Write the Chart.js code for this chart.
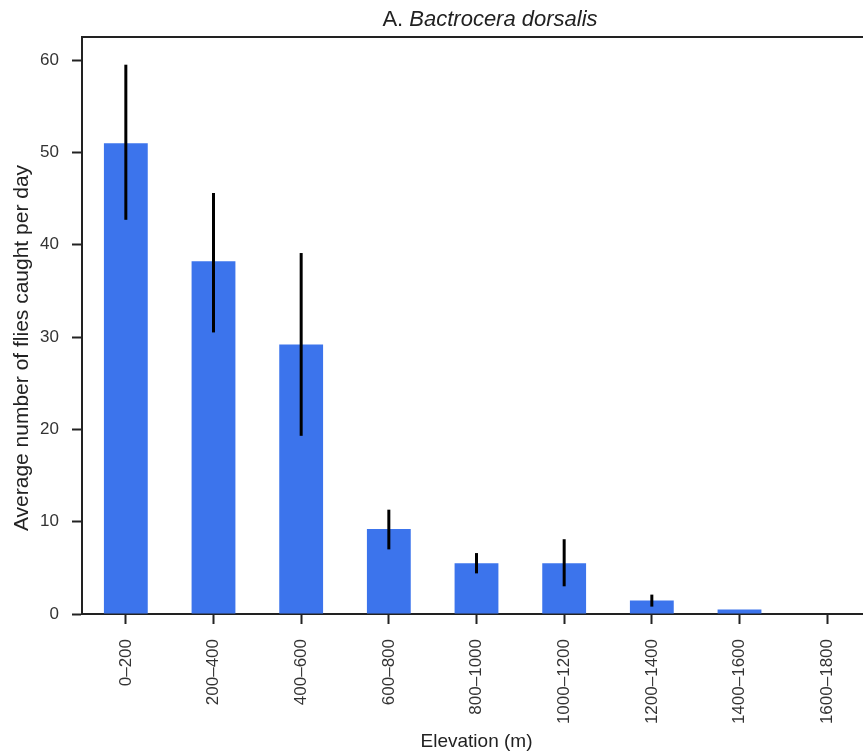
<!DOCTYPE html>
<html>
<head>
<meta charset="utf-8">
<script src="https://cdn.jsdelivr.net/npm/chart.js@4"></script>
<style>
  html, body { margin: 0; padding: 0; background: #fff; overflow: hidden; }
  #wrap { width: 871px; height: 756px; }
</style>
</head>
<body>
<div id="wrap"><canvas id="elevChart"></canvas></div>
<script>
// Datos
const elevaciones = ['0–200', '200–400', '400–600', '600–800', '800–1000', '1000–1200', '1200–1400', '1400–1600', '1600–1800'];
const promedios = [51.0, 38.2, 29.2, 9.2, 5.5, 5.5, 1.45, 0.5, 0];
const errorSup = [59.5, 45.6, 39.1, 11.3, 6.6, 8.1, 2.1, null, null];
const errorInf = [42.7, 30.5, 19.3, 7.0, 4.4, 3.0, 0.8, null, null];
const ticksY = [0, 10, 20, 30, 40, 50, 60];

const fuente = "'Liberation Sans', Arial, sans-serif";

// Barras de error verticales
const barrasError = {
    id: 'barrasError',
    afterDatasetsDraw(chart) {
        const ctx = chart.ctx;
        const meta = chart.getDatasetMeta(0);
        const y = chart.scales.y;
        ctx.save();
        ctx.strokeStyle = '#000';
        ctx.lineWidth = 3;
        meta.data.forEach(function(bar, i) {
            if (errorSup[i] == null) return;
            ctx.beginPath();
            ctx.moveTo(bar.x, y.getPixelForValue(errorSup[i]));
            ctx.lineTo(bar.x, y.getPixelForValue(errorInf[i]));
            ctx.stroke();
        });
        ctx.restore();
    }
};

// Borde superior, título (especie en cursiva) y título del eje Y
const marcoTitulo = {
    id: 'marcoTitulo',
    afterDraw(chart) {
        const ctx = chart.ctx;
        const area = chart.chartArea;
        ctx.save();
        ctx.strokeStyle = '#222';
        ctx.lineWidth = 2;
        ctx.beginPath();
        ctx.moveTo(area.left - 1, area.top);
        ctx.lineTo(area.right, area.top);
        ctx.stroke();

        const parte1 = 'A. ';
        const parte2 = 'Bactrocera dorsalis';
        ctx.font = '22px ' + fuente;
        const w1 = ctx.measureText(parte1).width;
        ctx.font = 'italic 22px ' + fuente;
        const w2 = ctx.measureText(parte2).width;
        let x = 490 - (w1 + w2) / 2;
        ctx.fillStyle = '#222';
        ctx.textBaseline = 'middle';
        ctx.textAlign = 'left';
        ctx.font = '22px ' + fuente;
        ctx.fillText(parte1, x, 20);
        ctx.font = 'italic 22px ' + fuente;
        ctx.fillText(parte2, x + w1, 20);

        // título del eje Y
        ctx.translate(22, 348);
        ctx.rotate(-Math.PI / 2);
        ctx.textAlign = 'center';
        ctx.font = '21px ' + fuente;
        ctx.fillText('Average number of flies caught per day', 0, 0);
        ctx.restore();
    }
};

new Chart(document.getElementById('elevChart'), {
    type: 'bar',
    data: {
        labels: elevaciones,
        datasets: [{
            data: promedios,
            backgroundColor: '#3c74ec',
            borderWidth: 0,
            barPercentage: 0.5,
            categoryPercentage: 1
        }]
    },
    options: {
        responsive: true,
        maintainAspectRatio: false,
        animation: false,
        layout: { padding: { top: 37, left: 0, right: 0, bottom: 0 } },
        plugins: {
            legend: { display: false },
            tooltip: { enabled: false }
        },
        scales: {
            x: {
                afterFit: function(s) { s.height = 142; },
                grid: {
                    offset: false,
                    drawOnChartArea: false,
                    drawTicks: true,
                    tickLength: 10,
                    tickWidth: 2,
                    tickColor: '#222'
                },
                border: { display: true, color: '#222', width: 2 },
                ticks: {
                    autoSkip: false,
                    minRotation: 90,
                    maxRotation: 90,
                    padding: 15,
                    color: '#333',
                    font: { family: fuente, size: 17 }
                },
                title: {
                    display: true,
                    text: 'Elevation (m)',
                    color: '#222',
                    padding: { top: 0, bottom: 3 },
                    font: { family: fuente, size: 19 }
                }
            },
            y: {
                min: 0,
                max: 62.5,
                afterFit: function(s) { s.width = 82; },
                afterBuildTicks: function(s) {
                    s.ticks = ticksY.map(function(v) { return { value: v }; });
                },
                grid: {
                    drawOnChartArea: false,
                    drawTicks: true,
                    tickLength: 10,
                    tickWidth: 2,
                    tickColor: '#222'
                },
                border: { display: true, color: '#222', width: 2 },
                ticks: {
                    padding: 13,
                    color: '#333',
                    font: { family: fuente, size: 17 }
                }
            }
        }
    },
    plugins: [barrasError, marcoTitulo]
});
</script>
</body>
</html>
